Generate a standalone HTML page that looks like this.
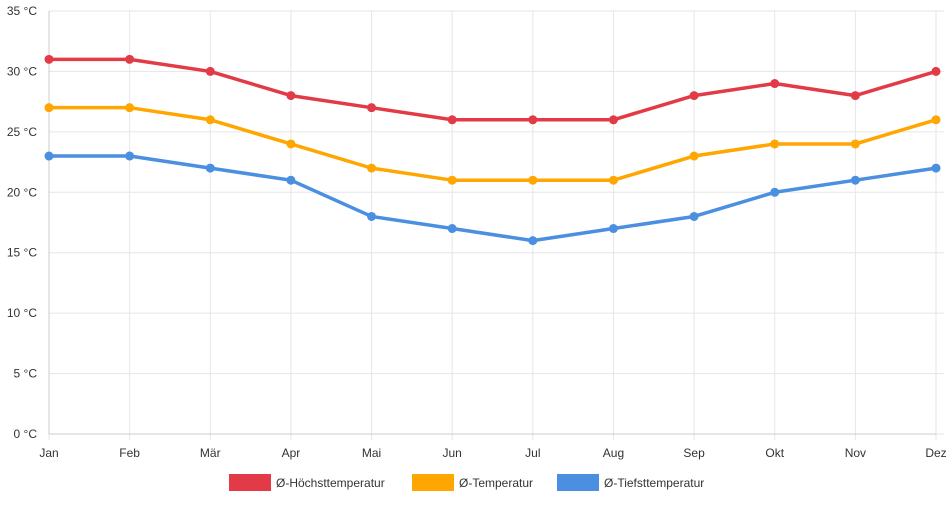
<!DOCTYPE html>
<html><head><meta charset="utf-8"><style>
body{margin:0;background:#fff;font-family:"Liberation Sans",sans-serif}
svg text{font-family:"Liberation Sans",sans-serif;font-size:12px;fill:#333}
</style></head><body>
<svg id="chart" width="952" height="500"></svg>
<script>
const months=["Jan","Feb","Mär","Apr","Mai","Jun","Jul","Aug","Sep","Okt","Nov","Dez"];
const maxTemp=[31,31,30,28,27,26,26,26,28,29,28,30];
const avgTemp=[27,27,26,24,22,21,21,21,23,24,24,26];
const minTemp=[23,23,22,21,18,17,16,17,18,20,21,22];
const yTicks=[0,5,10,15,20,25,30,35];
const seriesNames=["Ø-Höchsttemperatur","Ø-Temperatur","Ø-Tiefsttemperatur"];
const colors=["#e23b47","#ffa600","#4a8fe0"];
const NS="http://www.w3.org/2000/svg";
const svg=document.getElementById('chart');
const x0=49,x1=936,yTop=11,yBot=434;
const xs=i=>x0+i*(x1-x0)/(months.length-1);
const ys=v=>yBot-(v/35)*(yBot-yTop);
function mk(t,a,p){const e=document.createElementNS(NS,t);for(const k in a)e.setAttribute(k,a[k]);(p||svg).appendChild(e);return e;}
const grid=mk('g',{});


yTicks.forEach(v=>{
 mk('line',{x1:x0,x2:x1+8,y1:ys(v),y2:ys(v),stroke:'#e6e6e6','stroke-width':1},grid);
 const t=mk('text',{x:37,y:ys(v)+4,'text-anchor':'end'});
 
 
 t.textContent=v+' °C';
});
months.forEach((m,i)=>{
 mk('line',{x1:xs(i),x2:xs(i),y1:yTop,y2:yBot+6,stroke:'#e6e6e6','stroke-width':1},grid);
 const t=mk('text',{x:xs(i),y:457,'text-anchor':'middle'});
 
 
 t.textContent=m;
});
mk('line',{x1:x0,x2:x0,y1:yTop,y2:yBot,stroke:'#ccc'},grid);
mk('line',{x1:x0,x2:x1,y1:yBot,y2:yBot,stroke:'#ccc'},grid);
[maxTemp,avgTemp,minTemp].forEach((data,s)=>{
 const g=mk('g',{});
 
 
 const p=mk('polyline',{points:data.map((v,i)=>xs(i)+','+ys(v)).join(' '),fill:'none',stroke:colors[s],'stroke-width':3.5,'stroke-linejoin':'round'},g);
 
 
 data.forEach((v,i)=>{
  const c=mk('circle',{cx:xs(i),cy:ys(v),r:4.5,fill:colors[s]},g);
  
  
 });
});
const legX=[229,412,557];
seriesNames.forEach((n,s)=>{
 const g=mk('g',{});
 
 
 mk('rect',{x:legX[s],y:474,width:42,height:17,fill:colors[s]},g);
 const t=mk('text',{x:legX[s]+47,y:487},g);
 t.textContent=n;
});
</script>
</body></html>
